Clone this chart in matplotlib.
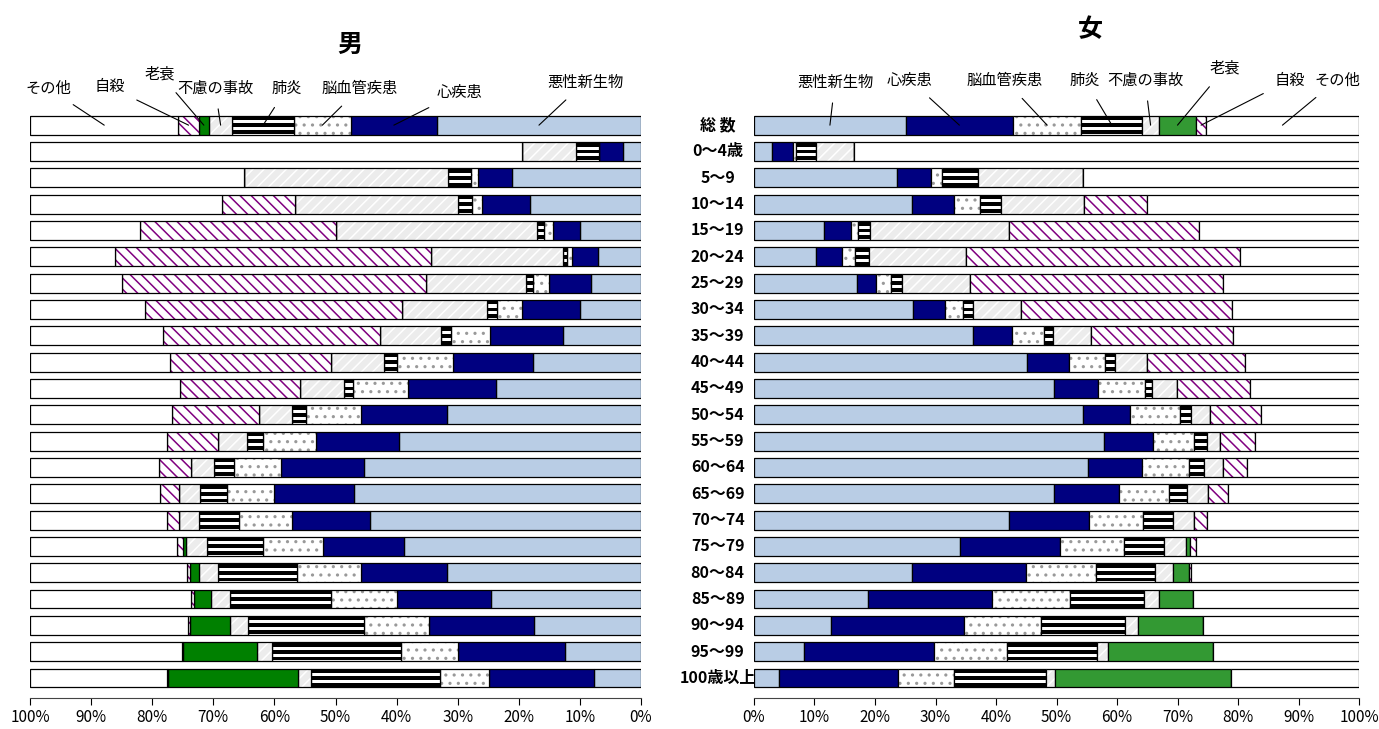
import matplotlib
matplotlib.use("Agg")
import matplotlib.pyplot as plt
import numpy as np

plt.rcParams['font.family'] = ['Noto Sans CJK JP', 'DejaVu Sans']
plt.rcParams['hatch.linewidth'] = 1.1

ages = ["総 数", "0～4歳", "5～9", "10～14", "15～19", "20～24", "25～29", "30～34",
        "35～39", "40～44", "45～49", "50～54", "55～59", "60～64", "65～69",
        "70～74", "75～79", "80～84", "85～89", "90～94", "95～99", "100歳以上"]
causes = ["悪性新生物", "心疾患", "脳血管疾患", "肺炎", "不慮の事故", "老衰", "自殺", "その他"]

# 累積構成割合(%)  悪性新生物→自殺 の順、残りがその他
male_cum = [
    [33.4, 47.5, 56.8, 66.9, 70.7, 72.4, 75.7],
    [3.0, 6.8, 6.9, 10.6, 19.5, 19.5, 19.5],
    [21.1, 26.6, 27.8, 31.6, 64.9, 64.9, 64.9],
    [18.1, 26.1, 27.7, 30.0, 56.6, 56.6, 68.6],
    [10.0, 14.4, 15.8, 17.0, 49.9, 49.9, 82.0],
    [7.0, 11.3, 12.1, 12.8, 34.4, 34.4, 86.1],
    [8.2, 15.1, 17.6, 18.8, 35.2, 35.2, 85.0],
    [10.0, 19.5, 23.6, 25.2, 39.1, 39.1, 81.2],
    [12.8, 24.7, 31.1, 32.7, 42.7, 42.7, 78.2],
    [17.7, 30.8, 40.0, 42.0, 50.7, 50.7, 77.1],
    [23.7, 38.1, 47.1, 48.6, 55.8, 55.8, 75.4],
    [31.8, 45.9, 54.9, 57.2, 62.6, 62.6, 76.7],
    [39.6, 53.2, 61.9, 64.5, 69.2, 69.2, 77.5],
    [45.3, 59.0, 66.6, 69.9, 73.7, 73.7, 78.9],
    [47.0, 60.1, 67.7, 72.1, 75.6, 75.6, 78.7],
    [44.3, 57.1, 65.8, 72.3, 75.6, 75.6, 77.6],
    [38.8, 52.1, 61.8, 71.1, 74.4, 74.9, 75.9],
    [31.7, 45.8, 56.3, 69.3, 72.3, 73.8, 74.3],
    [24.6, 39.9, 50.7, 67.2, 70.3, 73.1, 73.6],
    [17.5, 34.7, 45.3, 64.3, 67.3, 73.8, 74.1],
    [12.5, 29.9, 39.3, 60.4, 62.9, 74.9, 75.2],
    [7.7, 24.8, 32.9, 54.0, 56.2, 77.4, 77.6],
]
female_cum = [
    [25.1, 42.8, 54.1, 64.2, 66.9, 73.1, 74.7],
    [3.0, 6.5, 6.9, 10.3, 16.5, 16.5, 16.5],
    [23.6, 29.2, 31.0, 37.0, 54.3, 54.3, 54.3],
    [26.1, 33.0, 37.4, 40.9, 54.5, 54.5, 65.0],
    [11.6, 16.0, 17.2, 19.1, 42.2, 42.2, 73.5],
    [10.3, 14.5, 16.7, 19.0, 35.0, 35.0, 80.3],
    [17.0, 20.2, 22.7, 24.4, 35.7, 35.7, 77.6],
    [26.3, 31.6, 34.5, 36.2, 44.1, 44.1, 79.0],
    [36.2, 42.6, 47.9, 49.4, 55.7, 55.7, 79.2],
    [45.1, 52.1, 58.0, 59.7, 65.0, 65.0, 81.2],
    [49.6, 56.9, 64.6, 65.8, 69.9, 69.9, 82.0],
    [54.4, 62.1, 70.4, 72.2, 75.4, 75.4, 83.8],
    [57.9, 66.0, 72.7, 74.9, 77.0, 77.0, 82.8],
    [55.2, 64.2, 71.9, 74.3, 77.5, 77.5, 81.5],
    [49.6, 60.4, 68.6, 71.6, 75.1, 75.1, 78.3],
    [42.2, 55.4, 64.3, 69.2, 72.8, 72.8, 74.9],
    [34.1, 50.6, 61.1, 67.8, 71.4, 72.1, 73.1],
    [26.1, 44.9, 56.6, 66.3, 69.3, 71.9, 72.3],
    [18.9, 39.4, 52.2, 64.4, 66.9, 72.5, 72.5],
    [12.7, 34.7, 47.5, 61.3, 63.4, 74.2, 74.2],
    [8.2, 29.7, 41.8, 56.7, 58.5, 75.9, 75.9],
    [4.2, 23.8, 33.1, 48.2, 49.8, 78.8, 78.8],
]

# ラベル位置(figure pixels, 上から)
male_label_pos = [(585, 82), (460, 92), (360, 88), (287, 88), (215, 88), (160, 74), (110, 87), (48, 88)]
female_label_pos = [(835, 82), (910, 80), (1005, 80), (1085, 80), (1145, 80), (1225, 68), (1290, 80), (1337, 80)]


def shares(cum):
    c = np.array(cum, dtype=float)
    full = np.hstack([np.zeros((len(c), 1)), c, np.full((len(c), 1), 100.0)])
    return np.diff(full, axis=1)


def draw(ax, cum, green, label_pos):
    sh = shares(cum)
    y = np.arange(len(ages))
    h = 0.72
    left = np.zeros(len(ages))
    styles = [
        dict(fc="#b9cde5"), dict(fc="#000080"),
        dict(fc="white", hatch="..", ec="#999999"), None,
        dict(fc="#ececec", hatch="///", ec="white"),
        dict(fc=green), dict(fc="white", hatch="\\\\\\", ec="#800080"),
        dict(fc="white"),
    ]
    for k in range(len(causes)):
        w = sh[:, k]
        if k == 3:
            ax.barh(y, w, h, left=left, color="white", lw=0)
            # 肺炎: 黒の横縞
            for off in (-0.26, 0.0, 0.26):
                ax.barh(y + off, w, h * 0.2, left=left, color="black", lw=0)
        else:
            st = styles[k]
            ax.barh(y, w, h, left=left, color=st["fc"], hatch=st.get("hatch"),
                    edgecolor=st.get("ec", st["fc"]), lw=0)
        ax.barh(y, w, h, left=left, fill=False, edgecolor="black", lw=0.9)
        left = left + w

    ax.set_xlim(0, 100)
    ax.set_ylim(21.76, -0.5)
    ax.set_yticks([])
    for s in ["top", "left", "right"]:
        ax.spines[s].set_visible(False)
    ax.spines["bottom"].set_color("#444444")
    ax.set_xticks(np.arange(0, 101, 10))
    ax.set_xticklabels([f"{v}%" for v in range(0, 101, 10)], fontsize=11)
    ax.tick_params(axis="x", direction="out", length=5, pad=3)

    # 総数のバーへの引き出し線
    c0 = np.concatenate([[0], cum[0], [100]])
    for k, name in enumerate(causes):
        mid = (c0[k] + c0[k + 1]) / 2
        px, py = label_pos[k]
        ax.annotate(name, xy=(mid, 0.0), xycoords="data",
                    xytext=(px, 729 - py), textcoords="figure pixels",
                    ha="center", va="center", fontsize=11,
                    arrowprops=dict(arrowstyle="-", lw=0.8, color="black",
                                    shrinkA=7, shrinkB=0))


fig = plt.figure(figsize=(13.79, 7.29), dpi=100)
axm = fig.add_axes([30 / 1379, 1 - 698 / 729, 611 / 1379, 586 / 729])
axf = fig.add_axes([754 / 1379, 1 - 698 / 729, 605 / 1379, 586 / 729])

draw(axm, male_cum, "#008000", male_label_pos)
axm.invert_xaxis()
draw(axf, female_cum, "#339933", female_label_pos)

# 年齢階級ラベルは女の軸のy座標に合わせる
for i, a in enumerate(ages):
    axf.text(-6.0, i, a, ha="center", va="center", fontsize=11.5, fontweight="bold",
             clip_on=False)

fig.text(350 / 1379, 1 - 45 / 729, "男", ha="center", va="center", fontsize=18, fontweight="bold")
fig.text(1090 / 1379, 1 - 30 / 729, "女", ha="center", va="center", fontsize=18, fontweight="bold")

fig.savefig("out.png", dpi=100)
